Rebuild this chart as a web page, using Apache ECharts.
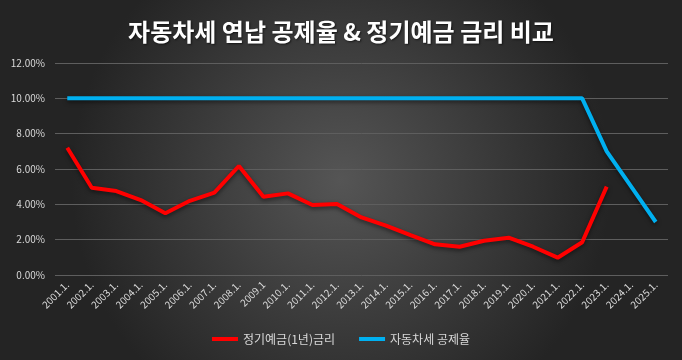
<!DOCTYPE html>
<html><head><meta charset="utf-8">
<script src="https://cdn.jsdelivr.net/npm/echarts@6/dist/echarts.min.js"></script>
<style>html,body{margin:0;padding:0;background:#262626}#c{width:682px;height:360px}</style>
</head><body><div id="c"></div>
<script>
const categories = ['2001.1.','2002.1.','2003.1.','2004.1.','2005.1.','2006.1.','2007.1.','2008.1.','2009.1','2010.1.','2011.1.','2012.1.','2013.1.','2014.1.','2015.1.','2016.1.','2017.1.','2018.1.','2019.1.','2020.1.','2021.1.','2022.1.','2023.1.','2024.1.','2025.1.'];
const depositRate = [7.2,4.94,4.75,4.24,3.49,4.2,4.66,6.17,4.43,4.62,3.96,4.02,3.26,2.79,2.26,1.74,1.6,1.94,2.11,1.6,0.98,1.85,5.0,null,null];
const taxDiscount = [10,10,10,10,10,10,10,10,10,10,10,10,10,10,10,10,10,10,10,10,10,10,7,5,3];
const seriesNames = ['정기예금(1년)금리','자동차세 공제율'];
const title = '자동차세 연납 공제율 & 정기예금 금리 비교';

const font = '"Noto Sans CJK KR", "Noto Sans", sans-serif';
const chart = echarts.init(document.getElementById('c'));
chart.setOption({
  backgroundColor: {type:'radial', x:0.5, y:0.5, r:0.75, colorStops:[{offset:0,color:'#555555'},{offset:1,color:'#242424'}]},
  animation:false,
  title:{text:title, left:'center', top:12, textStyle:{color:'#ffffff', fontSize:24, fontWeight:'bold', fontFamily:font, lineHeight:30,
    textShadowColor:'rgba(0,0,0,0.6)', textShadowBlur:2, textShadowOffsetX:1, textShadowOffsetY:1}},
  legend:{bottom:10, itemWidth:26, itemHeight:4, itemGap:24, icon:'rect',
    textStyle:{color:'#d9d9d9', fontSize:12, fontFamily:font}, data:seriesNames},
  grid:{left:55, right:14, top:63, bottom:85},
  xAxis:{type:'category', data:categories, boundaryGap:true,
    axisLine:{show:false}, axisTick:{show:false},
    axisLabel:{rotate:45, color:'#d9d9d9', fontSize:10, fontFamily:font, margin:8, interval:0}},
  yAxis:{type:'value', min:0, max:12, interval:2,
    axisLabel:{formatter:v=>v.toFixed(2)+'%', color:'#d9d9d9', fontSize:10, fontFamily:font, margin:10},
    splitLine:{lineStyle:{color:'#5e5e5e', width:1}}},
  series:[
    {name:seriesNames[0], type:'line', data:depositRate, symbol:'none', connectNulls:false,
     lineStyle:{color:'#ff0000', width:4, shadowColor:'rgba(0,0,0,0.5)', shadowBlur:4, shadowOffsetY:2}, itemStyle:{color:'#ff0000'}},
    {name:seriesNames[1], type:'line', data:taxDiscount, symbol:'none',
     lineStyle:{color:'#00b0f0', width:4, shadowColor:'rgba(0,0,0,0.5)', shadowBlur:4, shadowOffsetY:2}, itemStyle:{color:'#00b0f0'}}
  ]
});
</script></body></html>
